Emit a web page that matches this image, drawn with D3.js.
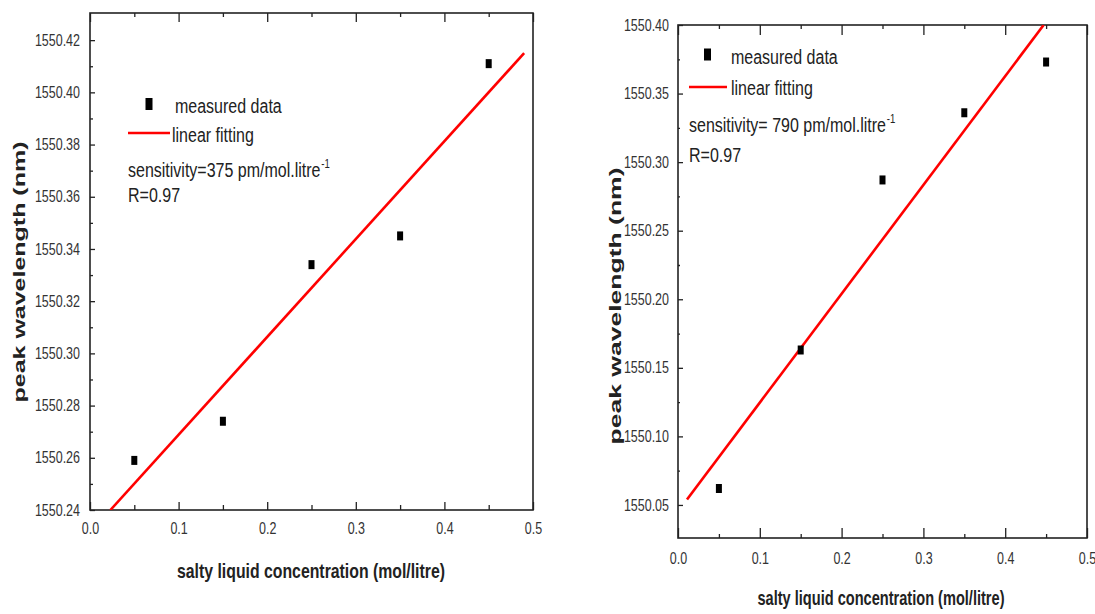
<!DOCTYPE html>
<html>
<head>
<meta charset="utf-8">
<script src="https://cdn.jsdelivr.net/npm/d3@7"></script>
<style>
  body { margin: 0; background: #fff; }
  svg { display: block; }
</style>
</head>
<body>
<svg id="chart" width="1095" height="614"></svg>
<script>
// values
const concentration = [0.05, 0.15, 0.25, 0.35, 0.45];
const peakLeft = [1550.259, 1550.274, 1550.334, 1550.345, 1550.411];
const peakRight = [1550.062, 1550.163, 1550.287, 1550.336, 1550.373];

// fitted lines, end points as seen in the picture
const fitLeftX = [0.023, 0.49];
const fitLeftY = [1550.240, 1550.415];
const fitRightX = [0.011, 0.447];
const fitRightY = [1550.054, 1550.400];

const xTicks = [0, 0.1, 0.2, 0.3, 0.4, 0.5];
const xMinorTicks = [0.05, 0.15, 0.25, 0.35, 0.45];
const yTicksLeft = [1550.24, 1550.26, 1550.28, 1550.30, 1550.32, 1550.34, 1550.36, 1550.38, 1550.40, 1550.42];
const yMinorLeft = [1550.25, 1550.27, 1550.29, 1550.31, 1550.33, 1550.35, 1550.37, 1550.39, 1550.41];
const yTicksRight = [1550.05, 1550.10, 1550.15, 1550.20, 1550.25, 1550.30, 1550.35, 1550.40];
const yMinorRight = [1550.075, 1550.125, 1550.175, 1550.225, 1550.275, 1550.325, 1550.375];

const legendLabels = ["measured data", "linear fitting"];
const sensitivityLeft = "sensitivity=375 pm/mol.litre";
const sensitivityRight = "sensitivity= 790 pm/mol.litre";
const rLabel = "R=0.97";
const xTitle = "salty liquid concentration (mol/litre)";
const yTitle = "peak wavelength (nm)";

const fontFamily = "'Liberation Sans', Arial, sans-serif";
const squeeze = 0.8; // the figure is narrowed horizontally, so is all level text
const inkColor = "#222";
const tickTextColor = "#333";

const svg = d3.select("#chart");

// narrow a text by shrinking its glyphs (works with any text-anchor)
function narrowText(sel, k) {
	sel.each(function () {
		const w = this.getComputedTextLength();
		d3.select(this).attr("textLength", w * k).attr("lengthAdjust", "spacingAndGlyphs");
	});
}

function drawPanel(p) {
	const g = svg.append("g");
	const x = d3.scaleLinear().domain([0, 0.5]).range([p.left, p.right]);
	const y = d3.scaleLinear().domain(p.yDomain).range([p.bottom, p.top]);

	// minor ticks first, majors on top
	g.append("g")
		.attr("transform", `translate(0,${p.bottom})`)
		.call(d3.axisBottom(x).tickValues(xMinorTicks).tickSize(-p.xMinorLen).tickSizeOuter(0).tickFormat(""));
	g.append("g")
		.attr("transform", `translate(0,${p.top})`)
		.call(d3.axisTop(x).tickValues(xMinorTicks).tickSize(-p.topMinorLen).tickSizeOuter(0).tickFormat(""));
	g.append("g")
		.attr("transform", `translate(0,${p.top})`)
		.call(d3.axisTop(x).tickValues(xTicks).tickSize(-p.topMajorLen).tickSizeOuter(0).tickFormat(""));
	g.append("g")
		.attr("transform", `translate(${p.left},0)`)
		.call(d3.axisLeft(y).tickValues(p.yMinor).tickSize(-p.yMinorLen).tickSizeOuter(0).tickFormat(""));

	g.append("g")
		.attr("class", "x-axis")
		.attr("transform", `translate(0,${p.bottom})`)
		.call(d3.axisBottom(x).tickValues(xTicks).tickSize(-p.xMajorLen).tickSizeOuter(0)
			.tickPadding(p.xPad).tickFormat(d3.format(".1f")));

	g.append("g")
		.attr("class", "y-axis")
		.attr("transform", `translate(${p.left},0)`)
		.call(d3.axisLeft(y).tickValues(p.yTicks).tickSize(-p.yMajorLen).tickSizeOuter(0)
			.tickPadding(p.yPad).tickFormat(d3.format(".2f")));

	g.selectAll(".tick line").attr("stroke", inkColor).attr("stroke-width", 1.3);
	g.selectAll(".domain").attr("stroke", "none");
	g.selectAll(".tick text")
		.attr("fill", tickTextColor)
		.attr("font-family", fontFamily)
		.attr("font-size", "16px")
		.call(narrowText, 0.78);

	// frame
	g.append("rect")
		.attr("x", p.left)
		.attr("y", p.top)
		.attr("width", p.right - p.left)
		.attr("height", p.bottom - p.top)
		.attr("fill", "none")
		.attr("stroke", inkColor)
		.attr("stroke-width", 1.6);

	// fitted line, clipped to the frame
	const clipId = "clip-" + p.name;
	g.append("clipPath").attr("id", clipId)
		.append("rect")
		.attr("x", p.left).attr("y", p.top)
		.attr("width", p.right - p.left).attr("height", p.bottom - p.top);

	const fitData = p.fitX.map((v, i) => ({ x: v, y: p.fitY[i] }));
	g.append("path")
		.datum(fitData)
		.attr("clip-path", `url(#${clipId})`)
		.attr("fill", "none")
		.attr("stroke", "#ff0000")
		.attr("stroke-width", 2.6)
		.attr("d", d3.line().x(d => x(d.x)).y(d => y(d.y)));

	// measured points
	const pts = p.xs.map((v, i) => ({ x: v, y: p.ys[i] }));
	g.selectAll("rect.point")
		.data(pts)
		.enter()
		.append("rect")
		.attr("class", "point")
		.attr("x", d => x(d.x) - 3)
		.attr("y", d => y(d.y) - 4.5)
		.attr("width", 6)
		.attr("height", 9)
		.attr("fill", "#000");

	// legend + annotation
	const L = p.legend;
	g.append("rect")
		.attr("x", L.markerX - 3.5).attr("y", L.markerY - 6)
		.attr("width", 7).attr("height", 12)
		.attr("fill", "#000");
	g.append("line")
		.attr("x1", L.lineX1).attr("x2", L.lineX2)
		.attr("y1", L.lineY).attr("y2", L.lineY)
		.attr("stroke", "#ff0000").attr("stroke-width", 2.6);

	const labelText = (tx, ty, s) => g.append("text")
		.attr("transform", `translate(${tx},${ty}) scale(${squeeze},1)`)
		.attr("fill", inkColor)
		.attr("font-family", fontFamily)
		.attr("font-size", "20px")
		.text(s);

	labelText(L.textX, L.row1, legendLabels[0]);
	labelText(L.textX2, L.row2, legendLabels[1]);
	const sens = labelText(L.noteX, L.row3, p.sensitivity);
	sens.append("tspan")
		.attr("font-size", "12px")
		.attr("dy", -9)
		.attr("dx", 1)
		.text("-1");
	labelText(L.noteX, L.row4, rLabel);

	// axis titles
	g.append("text")
		.attr("x", p.xTitleX).attr("y", p.xTitleY)
		.attr("text-anchor", "middle")
		.attr("fill", inkColor)
		.attr("font-family", fontFamily)
		.attr("font-weight", "bold")
		.attr("font-size", "21px")
		.attr("textLength", p.xTitleLen)
		.attr("lengthAdjust", "spacingAndGlyphs")
		.text(xTitle);

	g.append("text")
		.attr("transform", `translate(${p.yTitleX},${p.yTitleY}) rotate(-90)`)
		.attr("text-anchor", "middle")
		.attr("fill", inkColor)
		.attr("font-family", fontFamily)
		.attr("font-weight", "bold")
		.attr("font-size", "17px")
		.attr("textLength", p.yTitleLen)
		.attr("lengthAdjust", "spacingAndGlyphs")
		.text(yTitle);
}

drawPanel({
	name: "left",
	left: 90, right: 533, top: 13, bottom: 510,
	yDomain: [1550.24, 1550.4304],
	yTicks: yTicksLeft, yMinor: yMinorLeft,
	xs: concentration, ys: peakLeft,
	fitX: fitLeftX, fitY: fitLeftY,
	xMajorLen: 8, xMinorLen: 5, topMajorLen: 9, topMinorLen: 4, yMajorLen: 5, yMinorLen: 3,
	xPad: 13, yPad: 10,
	sensitivity: sensitivityLeft,
	legend: { markerX: 149, markerY: 104, textX: 175, row1: 113, lineX1: 128, lineX2: 170, lineY: 133,
		textX2: 172, row2: 142, noteX: 128, row3: 177, row4: 202 },
	xTitleX: 311, xTitleY: 578, xTitleLen: 268,
	yTitleX: 25, yTitleY: 272, yTitleLen: 261
});

drawPanel({
	name: "right",
	left: 678, right: 1087, top: 25, bottom: 538,
	yDomain: [1550.0259, 1550.40],
	yTicks: yTicksRight, yMinor: yMinorRight,
	xs: concentration, ys: peakRight,
	fitX: fitRightX, fitY: fitRightY,
	xMajorLen: 10, xMinorLen: 4, topMajorLen: 10, topMinorLen: 4, yMajorLen: 5, yMinorLen: 2,
	xPad: 15, yPad: 9,
	sensitivity: sensitivityRight,
	legend: { markerX: 707.5, markerY: 54.5, textX: 731, row1: 64, lineX1: 689, lineX2: 727, lineY: 87,
		textX2: 731, row2: 95, noteX: 689, row3: 132, row4: 162 },
	xTitleX: 881, xTitleY: 605, xTitleLen: 247,
	yTitleX: 621, yTitleY: 306, yTitleLen: 277
});
</script>
</body>
</html>
